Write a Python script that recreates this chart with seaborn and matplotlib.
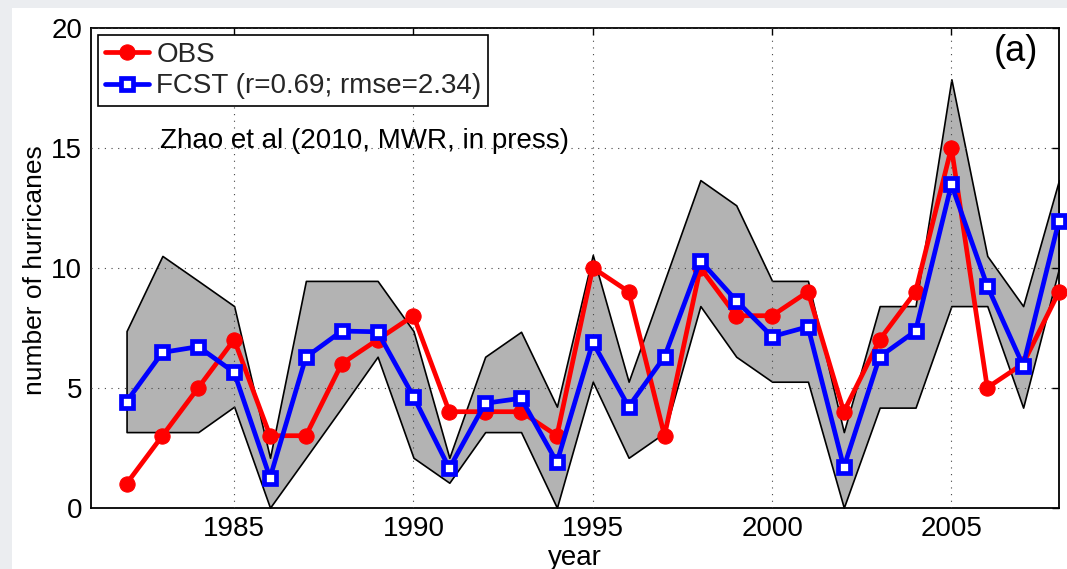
import numpy as np
import pandas as pd
import matplotlib
matplotlib.use("Agg")
import matplotlib.pyplot as plt
from matplotlib.patches import Rectangle
import seaborn as sns

years = list(range(1982, 2009))
obs = [1, 3, 5, 7, 3, 3, 6, 7, 8, 4, 4, 4, 3, 10, 9, 3, 10, 8, 8, 9, 4, 7, 9, 15, 5, 6, 9]
fcst = [4.42, 6.47, 6.71, 5.64, 1.25, 6.27, 7.36, 7.33, 4.63, 1.64, 4.35, 4.56, 1.89,
        6.89, 4.21, 6.29, 10.29, 8.63, 7.13, 7.54, 1.68, 6.29, 7.36, 13.47, 9.24, 5.92, 11.96]
upper = [7.36, 10.49, 9.45, 8.40, 2.08, 9.45, 9.45, 9.45, 7.36, 2.08, 6.29, 7.33, 4.21,
         10.53, 5.25, 9.45, 13.65, 12.60, 9.45, 9.45, 3.15, 8.40, 8.40, 17.85, 10.49, 8.40, 13.65]
lower = [3.15, 3.15, 3.15, 4.21, 0.0, 2.08, 4.17, 6.29, 2.08, 1.04, 3.15, 3.15, 0.0,
         5.25, 2.08, 3.12, 8.40, 6.29, 5.25, 5.25, 0.0, 4.17, 4.17, 8.40, 8.40, 4.17, 9.97]
xticks = [1985, 1990, 1995, 2000, 2005]
yticks = [0, 5, 10, 15, 20]

df = pd.DataFrame({"year": years, "OBS": obs, "FCST": fcst, "upper": upper, "lower": lower})

sns.set_theme(style="white")
plt.rcParams['font.family'] = ['Liberation Sans', 'DejaVu Sans']
FS = 20

fig = plt.figure(figsize=(10.67, 5.69), dpi=100)
fig.patch.set_facecolor('#ebedf0')
fig.patches.append(Rectangle((12/1067, 0), 1 - 12/1067, 1 - 8/569, transform=fig.transFigure,
                             facecolor='white', edgecolor='none', zorder=-5))
ax = fig.add_axes([90.7/1067, 1 - 507.7/569, (1059 - 90.7)/1067, 480/569])
ax.set_facecolor('white')

ax.fill_between(df["year"], df["lower"], df["upper"], facecolor='#b3b3b3',
                edgecolor='black', linewidth=1.2, zorder=1)

sns.lineplot(data=df, x="year", y="OBS", ax=ax, color='red', linewidth=3.4,
             marker='o', markersize=11, markeredgecolor='red', markerfacecolor='red',
             label='OBS', zorder=4, clip_on=False)
sns.lineplot(data=df, x="year", y="FCST", ax=ax, color='blue', linewidth=3.4,
             marker='s', markersize=9, markeredgecolor='blue', markerfacecolor='white',
             markeredgewidth=3.4, label='FCST (r=0.69; rmse=2.34)', zorder=5, clip_on=False)

ax.set_xlim(1981, 2008)
ax.set_ylim(0, 20)
ax.set_xticks(xticks)
ax.set_yticks(yticks)
ax.set_axisbelow(False)
ax.grid(True, linestyle=(0, (1, 5)), color='#444444', linewidth=0.8, zorder=2.5)
ax.tick_params(direction='in', length=5, width=1, top=True, right=True,
               labelsize=FS, pad=6, colors='black')
for s in ax.spines.values():
    s.set_visible(True)
    s.set_color('black')
    s.set_linewidth(1.3)

ax.set_xlabel('year', fontsize=FS, color='black')
ax.set_ylabel('number of hurricanes', fontsize=19, color='black')
ax.xaxis.set_label_coords(0.5, -0.077)
ax.yaxis.set_label_coords(-0.045, 0.495)

ax.text(1982.93, 15.0, 'Zhao et al (2010, MWR, in press)', fontsize=FS, va='baseline', ha='left',
        color='black', zorder=6)
ax.text(2006.8, 19.0, '(a)', fontsize=26, va='center', ha='center', color='black', zorder=6)

leg = ax.legend(loc='upper left', bbox_to_anchor=(0.0075, 0.985), borderaxespad=0,
                fontsize=FS, frameon=True, fancybox=False, framealpha=1, edgecolor='black',
                borderpad=0.25, labelspacing=0.2, handlelength=1.6, handletextpad=0.25)
leg.get_frame().set_linewidth(1.2)
leg.set_zorder(10)

fig.savefig('out.png', dpi=100, facecolor=fig.get_facecolor())
